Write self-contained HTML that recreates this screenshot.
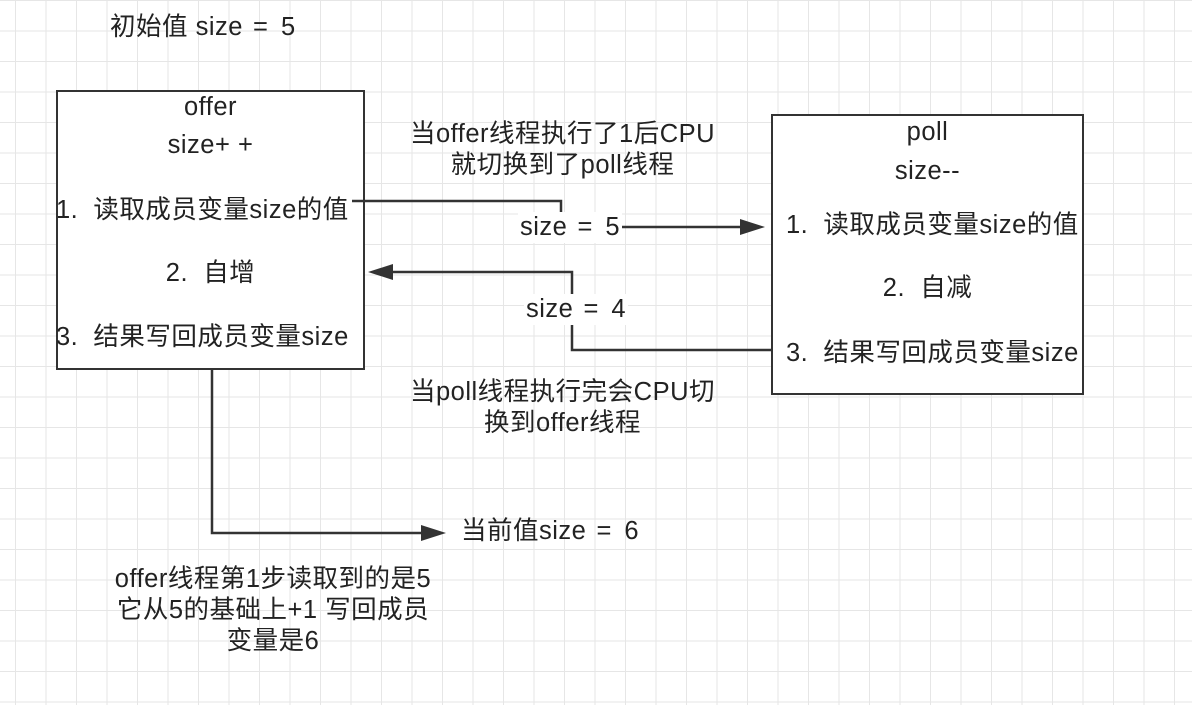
<!DOCTYPE html>
<html><head><meta charset="utf-8"><style>
html,body{margin:0;padding:0}
body{width:1192px;height:705px;position:relative;overflow:hidden;background:#fff;
background-image:linear-gradient(#e6e6e6 1px,transparent 1px),linear-gradient(90deg,#e6e6e6 1px,transparent 1px);
background-size:30.5px 30.5px;background-position:15px 0px;
font-family:"Liberation Sans","Noto Sans CJK SC",sans-serif;color:#222;font-size:25.5px;letter-spacing:0.5px}
.t{position:absolute;white-space:nowrap;line-height:31px}
.c{text-align:center}
.box{position:absolute;border:2px solid #333;background:#fff;box-sizing:border-box}
.lbl{background:#fff}
.e{letter-spacing:3px}
</style></head><body>
<div class="t" style="left:110px;top:12px">初始值 size<span class="e"> = </span>5</div>

<div class="box" style="left:56px;top:90px;width:309px;height:280px"></div>
<div class="box" style="left:771px;top:114px;width:313px;height:281px"></div>

<svg width="1192" height="705" style="position:absolute;left:0;top:0">
<g stroke="#333" stroke-width="2.5" fill="none">
<polyline points="352,201 561,201 561,215"/>
<line x1="622" y1="227" x2="745" y2="227"/>
<polyline points="772,350 572,350 572,272 392,272"/>
<polyline points="212,370 212,533 425,533"/>
</g>
<g fill="#333">
<polygon points="765,227 740,219 740,235"/>
<polygon points="368,272 393,264 393,280"/>
<polygon points="446,533 421,525 421,541"/>
</g>
</svg>

<div class="t c" style="left:56px;width:309px;top:92px">offer</div>
<div class="t c" style="left:56px;width:309px;top:130px">size+ +</div>
<div class="t" style="left:56px;top:195px">1.&nbsp; 读取成员变量size的值</div>
<div class="t c" style="left:56px;width:309px;top:258px">2.&nbsp; 自增</div>
<div class="t" style="left:56px;top:322px">3.&nbsp; 结果写回成员变量size</div>

<div class="t c" style="left:771px;width:313px;top:117px">poll</div>
<div class="t c" style="left:771px;width:313px;top:156px">size--</div>
<div class="t" style="left:786px;top:210px">1.&nbsp; 读取成员变量size的值</div>
<div class="t c" style="left:771px;width:313px;top:273px">2.&nbsp; 自减</div>
<div class="t" style="left:786px;top:338px">3.&nbsp; 结果写回成员变量size</div>

<div class="t c" style="left:390px;width:345px;top:119px">当offer线程执行了1后CPU<br>就切换到了poll线程</div>
<div class="t lbl" style="left:518px;top:212px;padding:0 2px">size<span class="e"> = </span>5</div>
<div class="t lbl" style="left:524px;top:294px;padding:0 2px">size<span class="e"> = </span>4</div>
<div class="t c" style="left:390px;width:345px;top:377px">当poll线程执行完会CPU切<br>换到offer线程</div>
<div class="t" style="left:461px;top:516px">当前值size<span class="e"> = </span>6</div>
<div class="t c" style="left:83px;width:380px;top:564px">offer线程第1步读取到的是5<br>它从5的基础上+1 写回成员<br>变量是6</div>
</body></html>
